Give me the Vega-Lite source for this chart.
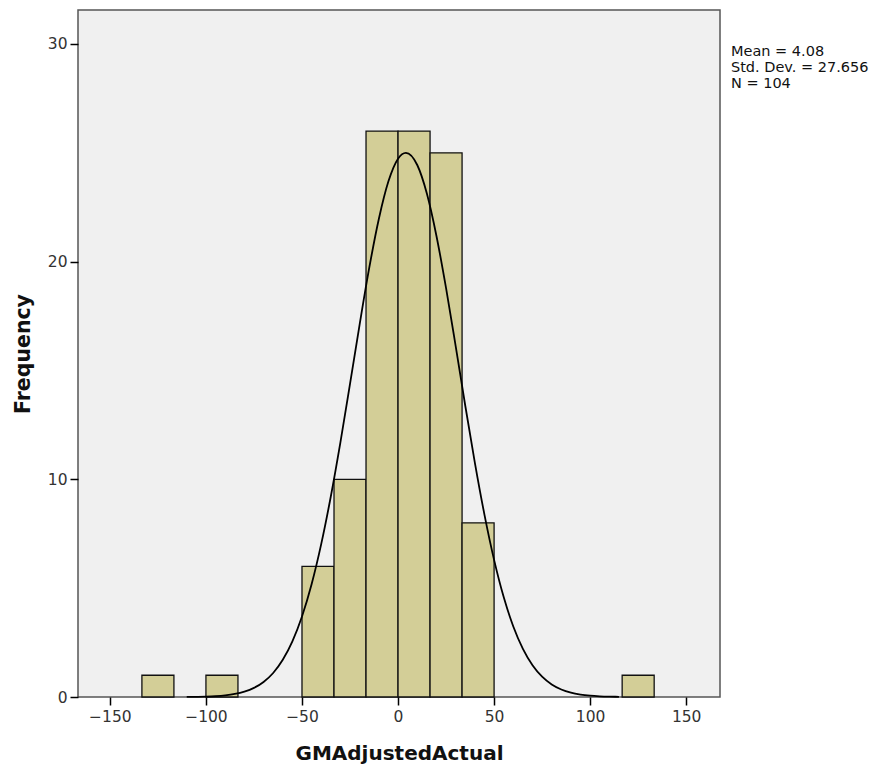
{
  "$schema": "https://vega.github.io/schema/vega-lite/v6.json",
  "width": 642,
  "height": 687,
  "autosize": {"type": "none"},
  "padding": {"left": 78, "top": 10, "right": 169, "bottom": 74},
  "background": "#ffffff",
  "config": {
    "font": "DejaVu Sans",
    "view": {"fill": "#f0f0f0", "stroke": "#555555", "strokeWidth": 1.5}
  },
  "datasets": {
    "bars": [
      {"bin_start": -133.333, "bin_end": -116.667, "count": 1},
      {"bin_start": -100, "bin_end": -83.333, "count": 1},
      {"bin_start": -50, "bin_end": -33.333, "count": 6},
      {"bin_start": -33.333, "bin_end": -16.667, "count": 10},
      {"bin_start": -16.667, "bin_end": 0, "count": 26},
      {"bin_start": 0, "bin_end": 16.667, "count": 26},
      {"bin_start": 16.667, "bin_end": 33.333, "count": 25},
      {"bin_start": 33.333, "bin_end": 50, "count": 8},
      {"bin_start": 116.667, "bin_end": 133.333, "count": 1}
    ],
    "curve": [
      {"x": -110, "y": 0.005}, {"x": -100, "y": 0.021}, {"x": -95, "y": 0.041},
      {"x": -90, "y": 0.077}, {"x": -85, "y": 0.14}, {"x": -80, "y": 0.246},
      {"x": -75, "y": 0.419}, {"x": -70, "y": 0.692}, {"x": -65, "y": 1.104},
      {"x": -60, "y": 1.707}, {"x": -55, "y": 2.553}, {"x": -50, "y": 3.696},
      {"x": -45, "y": 5.178}, {"x": -40, "y": 7.021}, {"x": -35, "y": 9.212},
      {"x": -30, "y": 11.7}, {"x": -25, "y": 14.38}, {"x": -20, "y": 17.11},
      {"x": -15, "y": 19.71}, {"x": -10, "y": 21.96}, {"x": -5, "y": 23.69},
      {"x": 0, "y": 24.73}, {"x": 4.08, "y": 25.0}, {"x": 10, "y": 24.44},
      {"x": 15, "y": 23.13}, {"x": 20, "y": 21.18}, {"x": 25, "y": 18.78},
      {"x": 30, "y": 16.12}, {"x": 35, "y": 13.38}, {"x": 40, "y": 10.76},
      {"x": 45, "y": 8.37}, {"x": 50, "y": 6.3}, {"x": 55, "y": 4.59},
      {"x": 60, "y": 3.24}, {"x": 65, "y": 2.21}, {"x": 70, "y": 1.46},
      {"x": 75, "y": 0.933}, {"x": 80, "y": 0.577}, {"x": 85, "y": 0.346},
      {"x": 90, "y": 0.2}, {"x": 95, "y": 0.113}, {"x": 100, "y": 0.061},
      {"x": 105, "y": 0.032}, {"x": 110, "y": 0.016}, {"x": 115, "y": 0.008}
    ],
    "stats": [
      {"label": "Mean = 4.08", "x": 173.3, "y": 29.44},
      {"label": "Std. Dev. = 27.656", "x": 173.3, "y": 28.7},
      {"label": "N = 104", "x": 173.3, "y": 27.96}
    ]
  },
  "layer": [
    {
      "data": {"name": "bars"},
      "mark": {"type": "rect", "fill": "#d3ce97", "stroke": "#111111", "strokeWidth": 1.3},
      "encoding": {
        "x": {
          "field": "bin_start", "type": "quantitative",
          "scale": {"domain": [-166.6, 167.6], "nice": false, "zero": false},
          "axis": {
            "values": [-150, -100, -50, 0, 50, 100, 150],
            "title": "GMAdjustedActual",
            "domain": false, "grid": false,
            "tickColor": "#000000", "tickSize": 8, "tickWidth": 1.5,
            "labelFontSize": 15.5, "labelColor": "#333333", "labelPadding": 4,
            "titleFontSize": 20, "titleFontWeight": "bold", "titleColor": "#111111",
            "titlePadding": 19
          }
        },
        "x2": {"field": "bin_end"},
        "y": {
          "field": "count", "type": "quantitative",
          "scale": {"domain": [0, 31.56], "nice": false},
          "axis": {
            "values": [0, 10, 20, 30],
            "title": "Frequency",
            "domain": false, "grid": false,
            "tickColor": "#000000", "tickSize": 8, "tickWidth": 1.5,
            "labelFontSize": 15.5, "labelColor": "#333333", "labelPadding": 3,
            "titleFontSize": 20.5, "titleFontWeight": "bold", "titleColor": "#111111",
            "titlePadding": 14
          }
        },
        "y2": {"datum": 0}
      }
    },
    {
      "data": {"name": "curve"},
      "mark": {"type": "line", "color": "#000000", "strokeWidth": 1.8, "interpolate": "monotone"},
      "encoding": {
        "x": {"field": "x", "type": "quantitative"},
        "y": {"field": "y", "type": "quantitative"}
      }
    },
    {
      "data": {"name": "stats"},
      "mark": {"type": "text", "align": "left", "baseline": "alphabetic", "fontSize": 14.5, "color": "#111111"},
      "encoding": {
        "x": {"field": "x", "type": "quantitative"},
        "y": {"field": "y", "type": "quantitative"},
        "text": {"field": "label"}
      }
    }
  ]
}
